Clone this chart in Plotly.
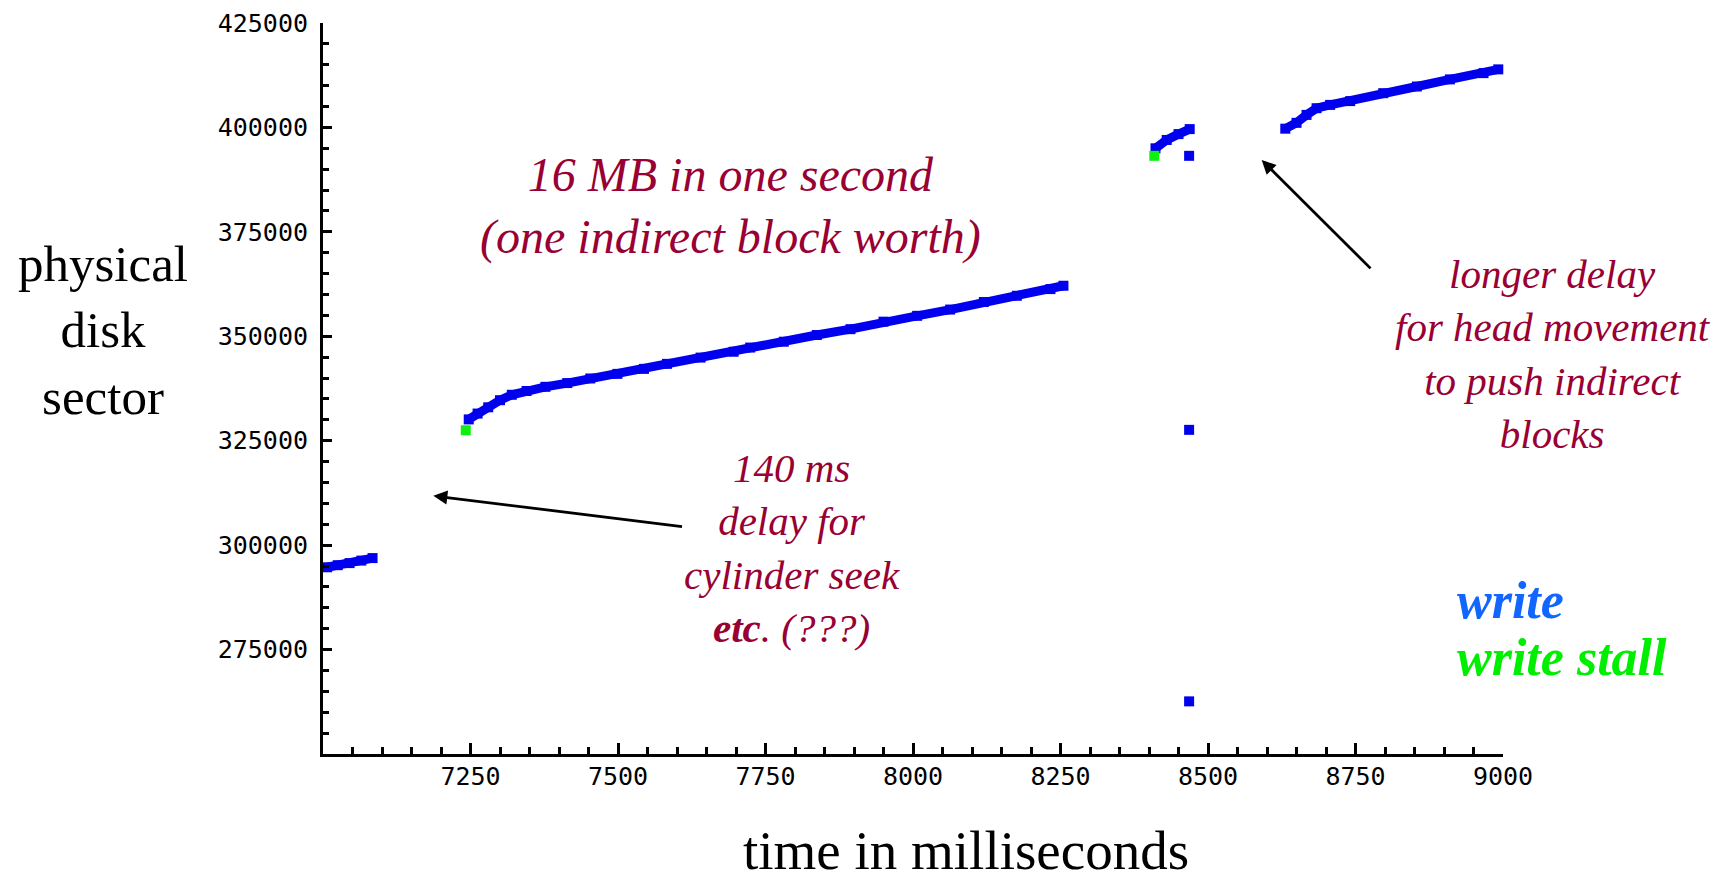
import plotly.graph_objects as go

# ---------------- data ----------------
# time in ms, physical disk sector
seg1_t = [7007, 7025, 7045, 7065, 7084]
seg1_s = [294700, 295200, 295700, 296300, 296900]

seg2_t = [7247, 7262, 7280, 7300, 7320, 7345, 7377, 7414, 7453, 7499, 7544, 7583,
          7640, 7696, 7724, 7781, 7837, 7894, 7950, 8007, 8063, 8120, 8176, 8233, 8255]
seg2_s = [330100, 331500, 333000, 334700, 336000, 336900, 337900, 338800, 339900,
          341000, 342200, 343400, 344900, 346300, 347300, 348700, 350300, 351700,
          353500, 354900, 356400, 358200, 359700, 361300, 362100]

seg3_t = [8411, 8430, 8450, 8469]
seg3_s = [395000, 397000, 398400, 399600]

seg4_t = [8631, 8650, 8667, 8684, 8707, 8741, 8797, 8854, 8910, 8967, 8992]
seg4_s = [399700, 401100, 403000, 404600, 405400, 406300, 408200, 409800,
          411500, 413000, 413900]

single_t = [8468, 8468, 8468]
single_s = [393200, 327600, 262600]

stall_t = [7242, 8409]
stall_s = [327500, 393200]

x_tick_vals = [7250, 7500, 7750, 8000, 8250, 8500, 8750, 9000]
x_tick_text = ["7250", "7500", "7750", "8000", "8250", "8500", "8750", "9000"]
y_tick_vals = [275000, 300000, 325000, 350000, 375000, 400000, 425000]
y_tick_text = ["275000", "300000", "325000", "350000", "375000", "400000", "425000"]

# ---------------- figure ----------------
W, H = 1731, 883
ML, MR, MT, MB = 323, 228, 23, 129
PW, PH = W - ML - MR, H - MT - MB

BLUE = "#0000ee"
GREEN = "#10f010"
MAROON = "#990033"
SERIF = "Liberation Serif, Times New Roman, serif"


def px(x):
    return (x - ML) / PW


def py(y):
    return (H - MB - y) / PH


fig = go.Figure()

for t, s in [(seg1_t, seg1_s), (seg2_t, seg2_s), (seg3_t, seg3_s), (seg4_t, seg4_s)]:
    fig.add_trace(go.Scatter(
        x=t, y=s, mode="lines+markers",
        line=dict(color=BLUE, width=9),
        marker=dict(symbol="square", size=10, color=BLUE, line=dict(width=0)),
        cliponaxis=False, showlegend=False, hoverinfo="skip"))

fig.add_trace(go.Scatter(
    x=single_t, y=single_s, mode="markers",
    marker=dict(symbol="square", size=10, color=BLUE, line=dict(width=0)),
    cliponaxis=False, showlegend=False, hoverinfo="skip"))

fig.add_trace(go.Scatter(
    x=stall_t, y=stall_s, mode="markers",
    marker=dict(symbol="square", size=10, color=GREEN, line=dict(width=0)),
    cliponaxis=False, showlegend=False, hoverinfo="skip"))

tickfont = dict(family="DejaVu Sans Mono, monospace", size=25, color="black")

fig.update_xaxes(
    range=[7000, 9000], showgrid=False, zeroline=False, automargin=False,
    showline=True, linewidth=3, linecolor="black",
    ticks="inside", ticklen=11, tickwidth=3, tickcolor="black",
    tickmode="array", tickvals=x_tick_vals, ticktext=x_tick_text,
    tickfont=tickfont, ticklabelstandoff=-2,
    minor=dict(ticks="inside", ticklen=7, tickwidth=2.5, tickcolor="black",
               tick0=7000, dtick=50, showgrid=False),
)
fig.update_yaxes(
    range=[250000, 425000], showgrid=False, zeroline=False, automargin=False,
    showline=True, linewidth=3, linecolor="black",
    ticks="inside", ticklen=9, tickwidth=3, tickcolor="black",
    tickmode="array", tickvals=y_tick_vals, ticktext=y_tick_text,
    tickfont=tickfont, ticklabelstandoff=7,
    minor=dict(ticks="inside", ticklen=6, tickwidth=2.5, tickcolor="black",
               tick0=250000, dtick=5000, showgrid=False),
)

ann = []


def text(x, y, s, size, color, style="normal", weight="normal",
         xanchor="center", yanchor="middle"):
    ann.append(dict(xref="paper", yref="paper", x=px(x), y=py(y), text=s,
                    showarrow=False, xanchor=xanchor, yanchor=yanchor, align="center",
                    font=dict(family=SERIF, size=size, color=color, style=style,
                              weight=weight)))


text(730, 206, "16 MB in one second<br>(one indirect block worth)", 48, MAROON, "italic")
text(792, 548, "140 ms<br>delay for<br>cylinder seek<br><b>etc</b>. (???)", 41, MAROON, "italic")
text(1553, 354, "longer delay<br>for head movement<br>to push indirect<br>blocks", 41, MAROON, "italic")
text(103, 330, "physical<br>disk<br>sector", 51, "black")
text(966, 883, "time in milliseconds", 55, "black", yanchor="bottom")
text(1455, 600, "write", 52, "#1166ff", "italic", "bold", xanchor="left")
text(1455, 657, "write stall", 52, "#00ee00", "italic", "bold", xanchor="left")

# arrows (head -> tail in data coordinates)
for (hx, hy, tx, ty) in [(7187, 311800, 7611, 304400), (8591, 392200, 8778, 365900)]:
    ann.append(dict(xref="x", yref="y", axref="x", ayref="y", x=hx, y=hy, ax=tx, ay=ty,
                    text="", showarrow=True, arrowhead=2, arrowsize=1, arrowwidth=2.8,
                    arrowcolor="black"))

fig.update_layout(
    width=W, height=H, autosize=False,
    margin=dict(l=ML, r=MR, t=MT, b=MB, pad=0, autoexpand=False),
    paper_bgcolor="white", plot_bgcolor="white",
    showlegend=False, hovermode=False,
    annotations=ann,
)

fig.write_html("out.html", config={"displayModeBar": False})
